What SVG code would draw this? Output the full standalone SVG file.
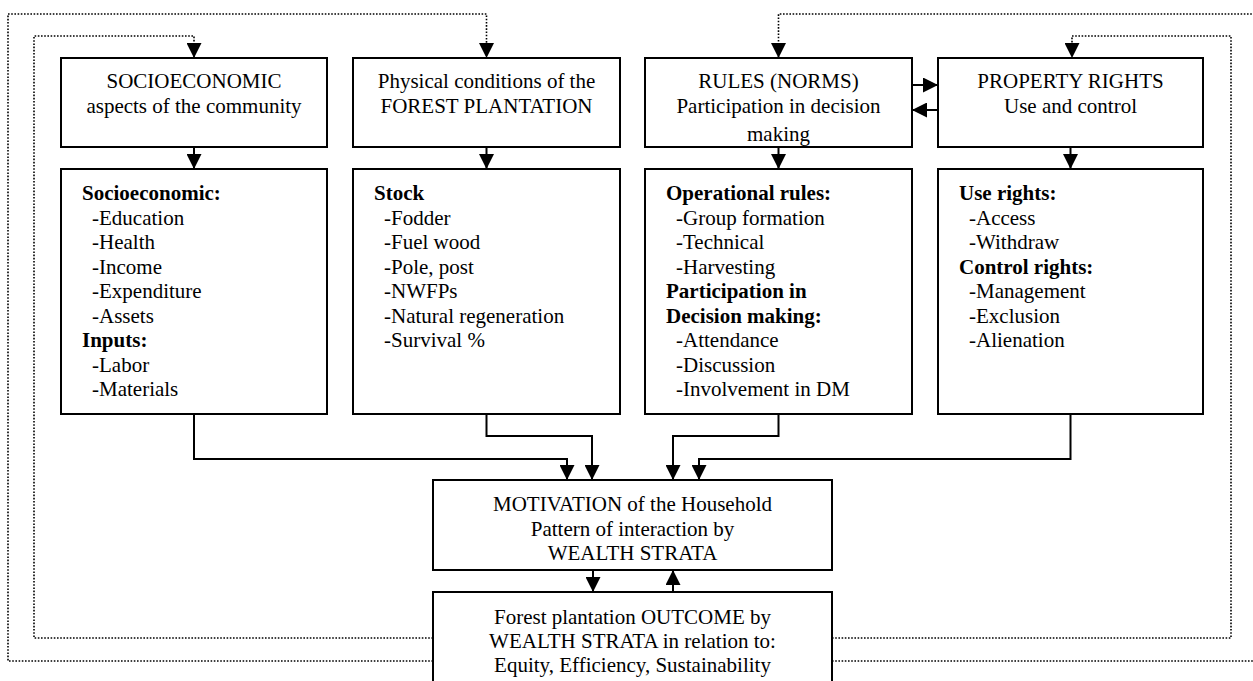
<svg xmlns="http://www.w3.org/2000/svg" width="1253" height="681" viewBox="0 0 1253 681">
<defs>
<marker id="ah" markerUnits="userSpaceOnUse" markerWidth="15" markerHeight="15" viewBox="0 0 14 14" refX="14" refY="7" orient="auto">
<path d="M0,0 L14,7 L0,14 z" fill="#000" stroke="none"/>
</marker>
<clipPath id="rulesClip"><rect x="646" y="59" width="265" height="87"/></clipPath>
<style>
.box{fill:#fff;stroke:#000;stroke-width:2}
.t{font-family:"Liberation Serif","Times New Roman",serif;font-size:21px;fill:#000}
.c{text-anchor:middle}
.b{font-weight:bold}
.solid{fill:none;stroke:#000;stroke-width:2}
.dot{fill:none;stroke:#000;stroke-width:1.6;stroke-dasharray:1.6 1.6}
</style>
</defs>
<rect width="1253" height="681" fill="#fff"/>

<g id="connectors">
<path class="dot" d="M433,661 H8 V14 H486.5 V58" marker-end="url(#ah)"/>
<path class="dot" d="M433,638 H34 V36 H194 V58" marker-end="url(#ah)"/>
<path class="dot" d="M832,638 H1231 V36 H1072 V58" marker-end="url(#ah)"/>
<path class="dot" d="M832,661 H1256 V14 H778.5 V58" marker-end="url(#ah)"/>
<path class="solid" d="M194,147 V169" marker-end="url(#ah)"/>
<path class="solid" d="M486.5,147 V169" marker-end="url(#ah)"/>
<path class="solid" d="M778.5,147 V169" marker-end="url(#ah)"/>
<path class="solid" d="M1070.5,147 V169" marker-end="url(#ah)"/>
<path class="solid" d="M912,85 H938" marker-end="url(#ah)"/>
<path class="solid" d="M938,110 H912" marker-end="url(#ah)"/>
<path class="solid" d="M194,414 V459 H567 V480" marker-end="url(#ah)"/>
<path class="solid" d="M486.5,414 V436 H592 V480" marker-end="url(#ah)"/>
<path class="solid" d="M778.5,414 V436 H673 V480" marker-end="url(#ah)"/>
<path class="solid" d="M1070.5,414 V459 H699 V480" marker-end="url(#ah)"/>
<path class="solid" d="M593,570 V592" marker-end="url(#ah)"/>
<path class="solid" d="M673,592 V570" marker-end="url(#ah)"/>
</g>

<g id="socio-top">
<rect class="box" x="61" y="58" width="266" height="89"/>
<text class="t c" x="194" y="88">SOCIOECONOMIC</text>
<text class="t c" x="194" y="112.5">aspects of the community</text>
</g>
<g id="physical-top">
<rect class="box" x="353" y="58" width="267" height="89"/>
<text class="t c" x="486.5" y="88">Physical conditions of the</text>
<text class="t c" x="486.5" y="112.5">FOREST PLANTATION</text>
</g>
<g id="rules-top">
<rect class="box" x="645" y="58" width="267" height="89"/>
<g clip-path="url(#rulesClip)">
<text class="t c" x="778.5" y="88">RULES (NORMS)</text>
<text class="t c" x="778.5" y="112.5">Participation in decision</text>
<text class="t c" x="778.5" y="141">making</text>
</g>
</g>
<g id="property-top">
<rect class="box" x="938" y="58" width="265" height="89"/>
<text class="t c" x="1070.5" y="88">PROPERTY RIGHTS</text>
<text class="t c" x="1070.5" y="112.5">Use and control</text>
</g>

<g id="socio-detail">
<rect class="box" x="61" y="169" width="266" height="245"/>
<text class="t b" x="82" y="200">Socioeconomic:</text>
<text class="t" x="92" y="224.5">-Education</text>
<text class="t" x="92" y="249">-Health</text>
<text class="t" x="92" y="273.5">-Income</text>
<text class="t" x="92" y="298">-Expenditure</text>
<text class="t" x="92" y="322.5">-Assets</text>
<text class="t b" x="82" y="347">Inputs:</text>
<text class="t" x="92" y="371.5">-Labor</text>
<text class="t" x="92" y="396">-Materials</text>
</g>
<g id="physical-detail">
<rect class="box" x="353" y="169" width="267" height="245"/>
<text class="t b" x="374" y="200">Stock</text>
<text class="t" x="384" y="224.5">-Fodder</text>
<text class="t" x="384" y="249">-Fuel wood</text>
<text class="t" x="384" y="273.5">-Pole, post</text>
<text class="t" x="384" y="298">-NWFPs</text>
<text class="t" x="384" y="322.5">-Natural regeneration</text>
<text class="t" x="384" y="347">-Survival %</text>
</g>
<g id="rules-detail">
<rect class="box" x="645" y="169" width="267" height="245"/>
<text class="t b" x="666" y="200">Operational rules:</text>
<text class="t" x="676" y="224.5">-Group formation</text>
<text class="t" x="676" y="249">-Technical</text>
<text class="t" x="676" y="273.5">-Harvesting</text>
<text class="t b" x="666" y="298">Participation in</text>
<text class="t b" x="666" y="322.5">Decision making:</text>
<text class="t" x="676" y="347">-Attendance</text>
<text class="t" x="676" y="371.5">-Discussion</text>
<text class="t" x="676" y="396">-Involvement in DM</text>
</g>
<g id="property-detail">
<rect class="box" x="938" y="169" width="265" height="245"/>
<text class="t b" x="959" y="200">Use rights:</text>
<text class="t" x="969" y="224.5">-Access</text>
<text class="t" x="969" y="249">-Withdraw</text>
<text class="t b" x="959" y="273.5">Control rights:</text>
<text class="t" x="969" y="298">-Management</text>
<text class="t" x="969" y="322.5">-Exclusion</text>
<text class="t" x="969" y="347">-Alienation</text>
</g>

<g id="motivation">
<rect class="box" x="433" y="480" width="399" height="90"/>
<text class="t c" x="632.5" y="511">MOTIVATION of the Household</text>
<text class="t c" x="632.5" y="535.5">Pattern of interaction by</text>
<text class="t c" x="632.5" y="560">WEALTH STRATA</text>
</g>
<g id="outcome">
<rect class="box" x="433" y="592" width="399" height="100"/>
<text class="t c" x="632.5" y="623.5">Forest plantation OUTCOME by</text>
<text class="t c" x="632.5" y="648">WEALTH STRATA in relation to:</text>
<text class="t c" x="632.5" y="672">Equity, Efficiency, Sustainability</text>
</g>
</svg>
